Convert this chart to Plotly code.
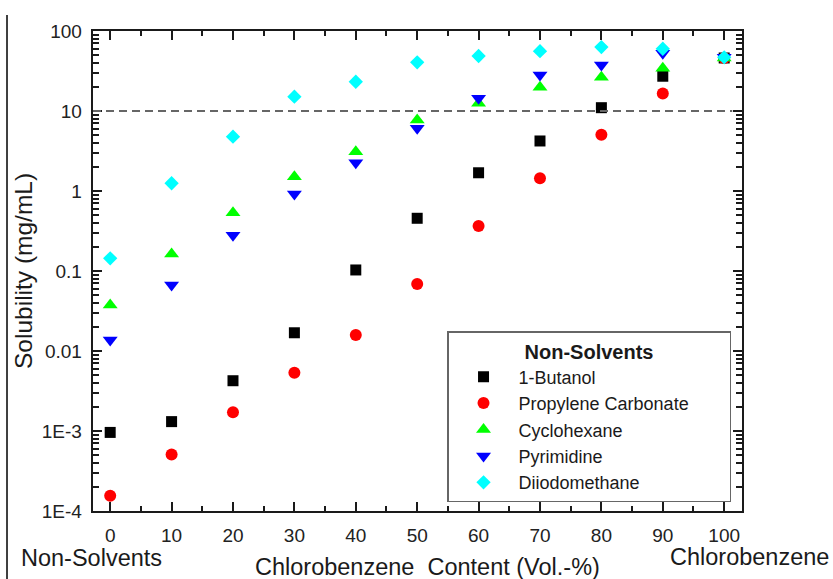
import plotly.graph_objects as go

# ---------------- data ----------------
content = [0, 10, 20, 30, 40, 50, 60, 70, 80, 90, 100]

butanol = [9.6e-4, 1.31e-3, 4.25e-3, 0.0169, 0.103, 0.456, 1.69, 4.22, 11.0, 27.2, 46.0]
propylene_carbonate = [1.55e-4, 5.1e-4, 1.71e-3, 5.35e-3, 0.0158, 0.0688, 0.365, 1.44, 5.06, 16.5, 46.0]
cyclohexane = [0.0376, 0.163, 0.535, 1.51, 3.1, 7.7, 12.5, 19.8, 26.4, 34.2, 46.0]
pyrimidine = [0.0137, 0.0668, 0.28, 0.917, 2.26, 6.08, 14.4, 28.2, 37.6, 52.6, 46.9]
diiodomethane = [0.144, 1.25, 4.77, 15.1, 23.2, 40.6, 48.7, 56.0, 63.0, 60.0, 46.9]

series_names = ["1-Butanol", "Propylene Carbonate", "Cyclohexane", "Pyrimidine", "Diiodomethane"]
series_values = [butanol, propylene_carbonate, cyclohexane, pyrimidine, diiodomethane]

x_tick_step = 10
x_minor_step = 5
solubility_threshold = 10

# ---------------- styles ----------------
colors = ["#000000", "#ff0000", "#00ff00", "#0000ff", "#00ffff"]
symbols = ["square", "circle", "triangle-up", "triangle-down", "diamond"]
sizes = [11, 12, 13, 13, 11]
FONT = "Liberation Sans, Arial, sans-serif"
AX = "#1a1a1a"
X_RANGE = [-2.8, 102.9]
Y_RANGE = [-4, 2]
NBSP = "\u00a0"
MINUS = "\u2212"

# show exponent labels with a plain hyphen, like the original ("1E-3")
y_label_alias = {}
for p in (3, 4):
    y_label_alias["1E" + MINUS + str(p)] = "1E-" + str(p)
    y_label_alias["1E" + MINUS + str(p) + NBSP] = "1E-" + str(p) + NBSP

fig = go.Figure()
for name, vals, c, s, sz in zip(series_names, series_values, colors, symbols, sizes):
    label = name + NBSP * 7 if name == "Propylene Carbonate" else name
    fig.add_trace(go.Scatter(
        x=content, y=vals, mode="markers", name=label,
        marker=dict(color=c, symbol=s, size=sz, line=dict(width=0)),
    ))

axis_common = dict(
    showline=True, linecolor=AX, linewidth=2, mirror="ticks",
    ticks="inside", tickcolor=AX, tickwidth=2,
    showgrid=False, zeroline=False,
    tickfont=dict(family=FONT, size=19, color="#222222"),
)

fig.update_layout(
    xaxis=dict(range=X_RANGE, dtick=x_tick_step, tick0=0, ticklen=9,
               ticklabelstandoff=6,
               minor=dict(ticks="inside", dtick=x_minor_step, ticklen=5,
                          tickwidth=2, tickcolor=AX),
               **axis_common),
    yaxis=dict(type="log", range=Y_RANGE, dtick=1, exponentformat="E",
               ticksuffix=NBSP, ticklen=9, labelalias=y_label_alias,
               minor=dict(ticks="inside", dtick="D1", ticklen=6,
                          tickwidth=1.5, tickcolor=AX),
               **axis_common),
)

# threshold dashed line
fig.add_shape(type="line", xref="paper", yref="y", x0=0, x1=0.985,
              y0=solubility_threshold, y1=solubility_threshold,
              line=dict(color="#666666", width=2, dash="8px,5px"))

# left border line of the page
fig.add_shape(type="line", xref="paper", yref="paper", x0=-0.1325, x1=-0.1325,
              y0=1.0333, y1=-0.15, line=dict(color="#000000", width=1.5))

txt = dict(family=FONT, size=23.5, color="#1a1a1a")
ann = dict(xref="paper", yref="paper", showarrow=False, xanchor="center", yanchor="middle")
fig.add_annotation(text="Solubility (mg/mL)", textangle=-90, x=-0.1079, y=0.5,
                   font=dict(family=FONT, size=24.5, color="#1a1a1a"), **ann)
fig.add_annotation(text="Chlorobenzene" + NBSP * 2 + "Content (Vol.-%)", x=0.5154, y=-0.1167, font=txt, **ann)
fig.add_annotation(text="Non-Solvents", x=-0.0023, y=-0.0979, font=txt, **ann)
fig.add_annotation(text="Chlorobenzene", x=1.0108, y=-0.0958, font=txt, **ann)

fig.update_layout(
    width=833, height=579,
    margin=dict(l=93, r=91, t=31, b=68),
    paper_bgcolor="white", plot_bgcolor="white",
    showlegend=True,
    legend=dict(
        x=0.5455, y=0.375, xanchor="left", yanchor="top",
        bordercolor="#666666", borderwidth=1.5, bgcolor="white",
        font=dict(family=FONT, size=18, color="#1a1a1a"),
        title=dict(text="<b>Non-Solvents</b>", side="top center",
                   font=dict(family=FONT, size=20, color="#1a1a1a")),
        itemwidth=60, tracegroupgap=0,
    ),
)

fig.write_html("out.html", config={"displayModeBar": False},
               post_script="document.body.style.margin='0';")
